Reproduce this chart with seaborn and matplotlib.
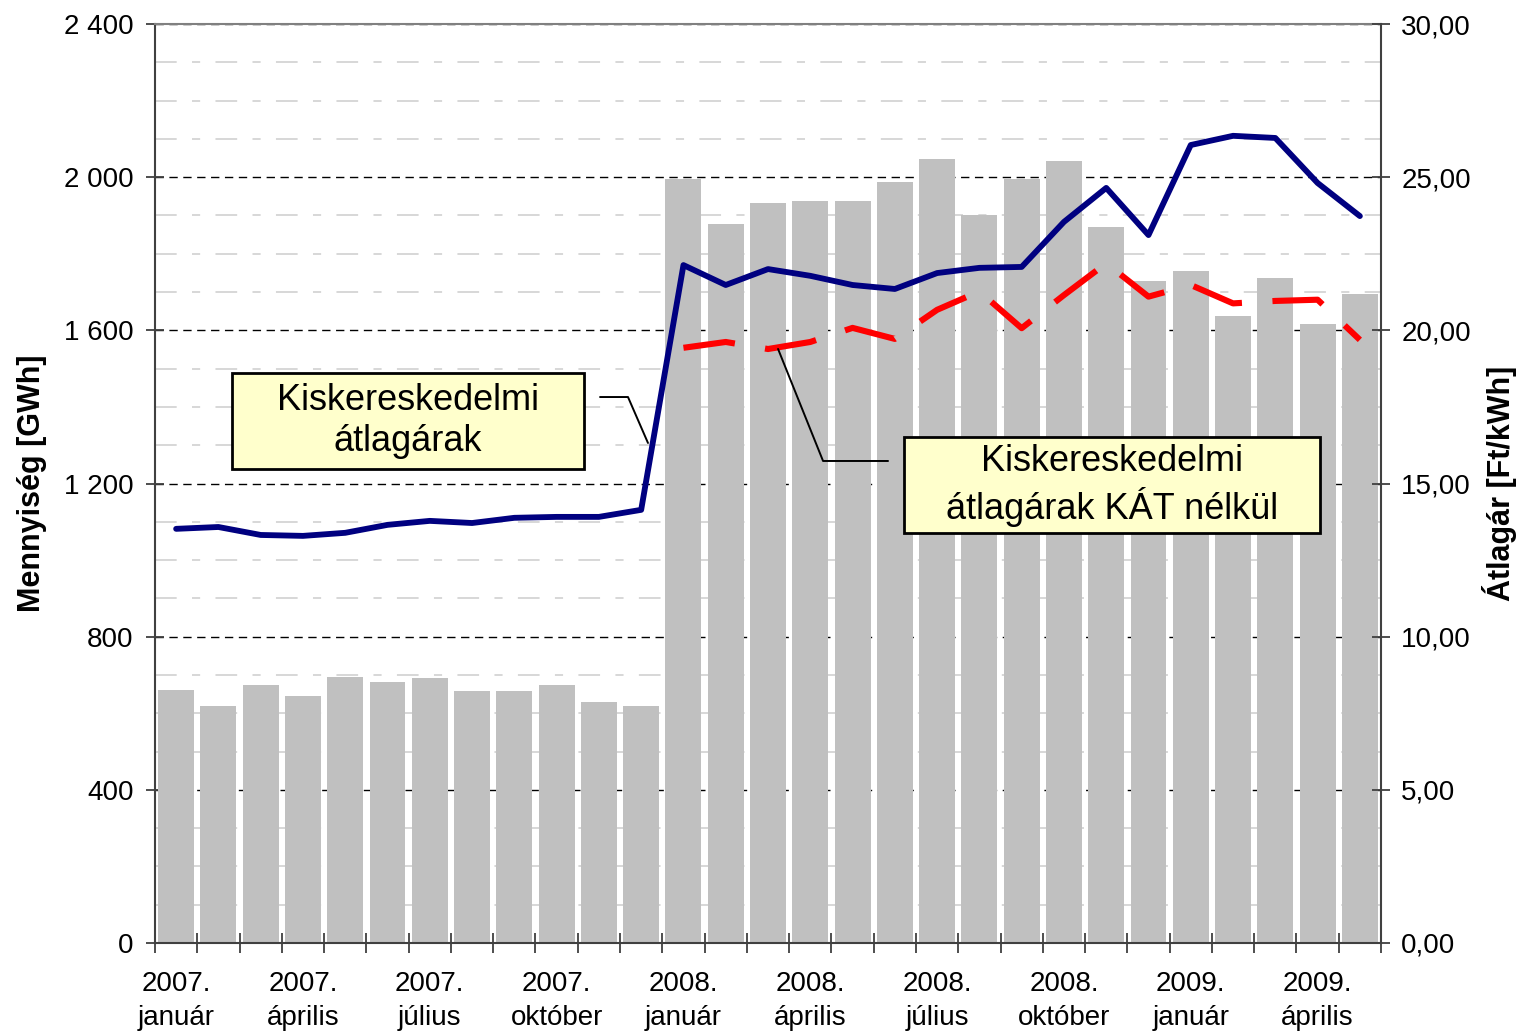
import matplotlib

matplotlib.use("Agg")
import matplotlib.pyplot as plt  # noqa: E402
import matplotlib.ticker as mticker  # noqa: E402
from matplotlib.patches import Rectangle  # noqa: E402
import seaborn as sns  # noqa: E402
import pandas as pd  # noqa: E402

sns.set_theme(style="white")
plt.rcParams["font.family"] = ["Liberation Sans", "DejaVu Sans"]
plt.rcParams["text.color"] = "black"
plt.rcParams["axes.labelcolor"] = "black"
plt.rcParams["xtick.color"] = "black"
plt.rcParams["ytick.color"] = "black"

# ---------------------------------------------------------------------------
# Data
# ---------------------------------------------------------------------------
HONAPOK = ["január", "február", "március", "április", "május", "június",
           "július", "augusztus", "szeptember", "október", "november", "december"]
EVEK = [2007] * 12 + [2008] * 12 + [2009] * 5
MONTHS = [f"{ev}. {HONAPOK[i % 12]}" for i, ev in enumerate(EVEK)]

# Mennyiség [GWh]
VOLUME = [661, 619, 674, 645, 695, 682, 692, 658, 658, 674, 629, 619,
          1995, 1878, 1933, 1938, 1938, 1987, 2047, 1901, 1995, 2042, 1870, 1729,
          1755, 1637, 1737, 1617, 1695]

# Kiskereskedelmi átlagárak [Ft/kWh]
PRICE = [13.52, 13.58, 13.32, 13.29, 13.39, 13.65, 13.78, 13.71, 13.88, 13.91, 13.91, 14.14,
         22.13, 21.48, 22.00, 21.78, 21.48, 21.35, 21.87, 22.04, 22.07, 23.54, 24.65, 23.11,
         26.05, 26.35, 26.28, 24.81, 23.73]

# Kiskereskedelmi átlagárak KÁT nélkül [Ft/kWh] (2008. januártól)
PRICE_NO_KAT = [19.43, 19.62, 19.39, 19.62, 20.08, 19.72, 20.67, 21.27, 20.07, 21.15,
                22.19, 21.10, 21.48, 20.88, 20.96, 21.00, 19.69]

TICK_LABELS = ["2007.\njanuár", "2007.\náprilis", "2007.\njúlius", "2007.\noktóber",
               "2008.\njanuár", "2008.\náprilis", "2008.\njúlius", "2008.\noktóber",
               "2009.\njanuár", "2009.\náprilis"]

df = pd.DataFrame({"honap": MONTHS, "volume": VOLUME, "price": PRICE})
df["pos"] = range(len(df))
df_nokat = pd.DataFrame({"pos": range(12, 12 + len(PRICE_NO_KAT)), "price": PRICE_NO_KAT})

# ---------------------------------------------------------------------------
# Figure
# ---------------------------------------------------------------------------
fig = plt.figure(figsize=(15.27, 10.35), dpi=100)
ax = fig.add_axes([0.1015, 0.0889, 0.8029, 0.8879])

sns.barplot(data=df, x="honap", y="volume", color="#c0c0c0", saturation=1,
            width=0.85, linewidth=0, ax=ax)
ax.set_xlim(-0.5, len(df) - 0.5)
ax.set_ylim(0, 2400)
ax.set_axisbelow(True)

ax.yaxis.set_major_locator(mticker.MultipleLocator(400))
ax.yaxis.set_minor_locator(mticker.MultipleLocator(100))
ax.yaxis.set_major_formatter(
    mticker.FuncFormatter(lambda v, p: f"{int(v):,}".replace(",", " ")))
ax.grid(axis="y", which="major", color="black", linewidth=1.0,
        linestyle=(0, (6, 4)))
ax.grid(axis="y", which="minor", color="#d4d4d4", linewidth=1.3,
        linestyle=(0, (12, 8.5, 4.5, 8.5)))
ax.grid(axis="x", visible=False)

# x ticks: marks between categories, labels every third month
ax.set_xticks([i - 0.5 for i in range(len(df) + 1)])
ax.set_xticklabels([])
ax.set_xticks(list(range(0, len(df), 3)), minor=True)
ax.set_xticklabels(TICK_LABELS, minor=True, linespacing=1.4)
ax.tick_params(axis="x", which="major", direction="inout", length=14,
               width=1.3, color="#404040", bottom=True)
ax.tick_params(axis="x", which="minor", length=0, pad=20, labelsize=20,
               labelcolor="black")
ax.tick_params(axis="y", which="major", direction="inout", length=13,
               width=1.3, color="#404040", left=True, labelsize=20, pad=9,
               labelcolor="black")
ax.tick_params(axis="y", which="minor", length=0)
ax.set_xlabel("")
ax.set_ylabel("Mennyiség [GWh]", fontsize=22, fontweight="bold", labelpad=12)

for side in ["left", "bottom"]:
    ax.spines[side].set_color("#404040")
    ax.spines[side].set_linewidth(1.5)
ax.spines["top"].set_color("#808080")
ax.spines["top"].set_linewidth(1.5)
ax.spines["right"].set_visible(False)

# Right axis: prices
ax2 = ax.twinx()
sns.lineplot(data=df, x="pos", y="price", color="#000080", linewidth=4.2,
             solid_capstyle="round", solid_joinstyle="round", ax=ax2)
sns.lineplot(data=df_nokat, x="pos", y="price", color="#ff0000", linewidth=4.4,
             linestyle=(0, (8.5, 5)), dash_capstyle="butt", ax=ax2)
ax2.set_ylim(0, 30)
ax2.set_xlim(-0.5, len(df) - 0.5)
ax2.yaxis.set_major_locator(mticker.MultipleLocator(5))
ax2.yaxis.set_major_formatter(
    mticker.FuncFormatter(lambda v, p: f"{v:.2f}".replace(".", ",")))
ax2.tick_params(axis="y", direction="inout", length=13, width=1.3,
                color="#404040", right=True, labelsize=20, pad=8,
                labelcolor="black")
ax2.grid(False)
ax2.set_xlabel("")
ax2.set_ylabel("Átlagár [Ft/kWh]", fontsize=22, fontweight="bold", labelpad=8)
for side in ["left", "bottom", "top"]:
    ax2.spines[side].set_visible(False)
ax2.spines["right"].set_color("#404040")
ax2.spines["right"].set_linewidth(1.5)


# Callout boxes with leader lines (axes-fraction coordinates)
def callout(x0, y0, x1, y1, text, leader_x, leader_y):
    ax2.add_patch(Rectangle((x0, y0), x1 - x0, y1 - y0, transform=ax2.transAxes,
                            facecolor="#ffffcc", edgecolor="black", linewidth=2,
                            zorder=5))
    ax2.text((x0 + x1) / 2, (y0 + y1) / 2, text, transform=ax2.transAxes,
             ha="center", va="center", fontsize=26, linespacing=1.25,
             color="black", zorder=6)
    ax2.plot(leader_x, leader_y, transform=ax2.transAxes, color="black",
             linewidth=1.4, zorder=6)


callout(0.0628, 0.5158, 0.3499, 0.6202, "Kiskereskedelmi\nátlagárak",
        [0.363, 0.3858, 0.4021], [0.5941, 0.5941, 0.5441])
callout(0.611, 0.4461, 0.9502, 0.5506, "Kiskereskedelmi\nátlagárak KÁT nélkül",
        [0.5082, 0.5449, 0.5979], [0.6464, 0.5245, 0.5245])

fig.savefig("out.png", dpi=100)
